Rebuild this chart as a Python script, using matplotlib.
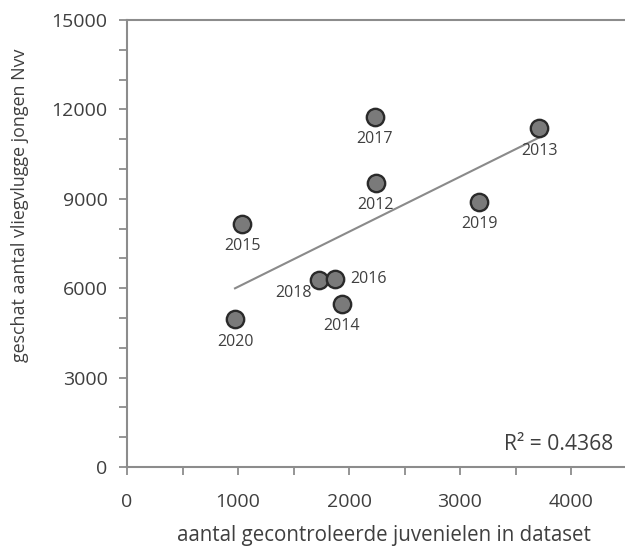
import matplotlib
matplotlib.use("Agg")
import matplotlib.pyplot as plt
import numpy as np
from matplotlib.ticker import MultipleLocator

years = ["2017", "2013", "2012", "2019", "2015", "2018", "2016", "2014", "2020"]
x_vals = [2234, 3712, 2240, 3174, 1039, 1730, 1874, 1934, 973]
y_vals = [11755, 11366, 9540, 8903, 8154, 6275, 6298, 5470, 4956]
r2_text = "R² = 0.4368"

plt.rcParams['font.family'] = ['Open Sans', 'DejaVu Sans']
txt = '#3f3f3f'

fig = plt.figure(figsize=(6.25, 5.48), dpi=100)
W, H = 625, 548
left, right, top, bottom = 127, 626.5, 20, 467
ax = fig.add_axes([left / W, 1 - bottom / H, (right - left) / W, (bottom - top) / H])
renderer = fig.canvas.get_renderer()


def fit(t, target_px, horizontal=True):
    fs = t.get_fontsize()
    bb = t.get_window_extent(renderer)
    cur = bb.width if horizontal else bb.height
    t.set_fontsize(fs * target_px / cur)
    return t


x = np.array(x_vals, dtype=float)
y = np.array(y_vals, dtype=float)
slope, intercept = np.polyfit(x, y, 1)
xl = np.array([x.min(), x.max()])
ax.plot(xl, slope * xl + intercept, color='#8a8a8a', lw=1.5, zorder=2)

ax.scatter(x, y, s=12.5**2, facecolor='#7a7a7a', edgecolor='#2a2a2a', linewidth=1.7, zorder=3)

# label offsets (points): default below
offsets = {"2016": (11, 0, 'left', 'center'), "2018": (-5, -9, 'right', 'center')}
for xi, yi, yr in zip(x, y, years):
    if yr in offsets:
        dx, dy, ha, va = offsets[yr]
    else:
        dx, dy, ha, va = (0, -16, 'center', 'center')
    ax.annotate(yr, (xi, yi), xytext=(dx, dy), textcoords='offset points',
                ha=ha, va=va, fontsize=11.5, color=txt)

ax.set_xlim(0, 4500)
ax.set_ylim(0, 15000)
ax.xaxis.set_major_locator(MultipleLocator(1000))
ax.xaxis.set_minor_locator(MultipleLocator(500))
ax.yaxis.set_major_locator(MultipleLocator(3000))
ax.yaxis.set_minor_locator(MultipleLocator(1000))

ax.spines['right'].set_visible(False)
for s in ['left', 'bottom', 'top']:
    ax.spines[s].set_color('#8c8c8c')
    ax.spines[s].set_linewidth(1.5)

ax.tick_params(which='both', direction='out', color='#8c8c8c', width=1.3, length=6,
               labelcolor=txt, labelsize=14)
ax.tick_params(axis='y', which='major', pad=8)
ax.tick_params(axis='x', which='major', pad=13)
ax.tick_params(axis='x', which='both', top=False)

t = ax.text(613 / W, 1 - 445 / H, r2_text, transform=fig.transFigure, ha='right', va='center',
            fontsize=12.5, color=txt)
fit(t, 110)

t = fig.text(384 / W, 1 - 535 / H, "aantal gecontroleerde juvenielen in dataset", ha='center', va='center',
             fontsize=13, color=txt)
fit(t, 412)
t = fig.text(20 / W, 1 - 205 / H, "geschat aantal vliegvlugge jongen Nvv", ha='center', va='center',
             rotation=90, fontsize=12.5, color=txt)
fit(t, 315, horizontal=False)

fig.savefig("out.png", dpi=100)
